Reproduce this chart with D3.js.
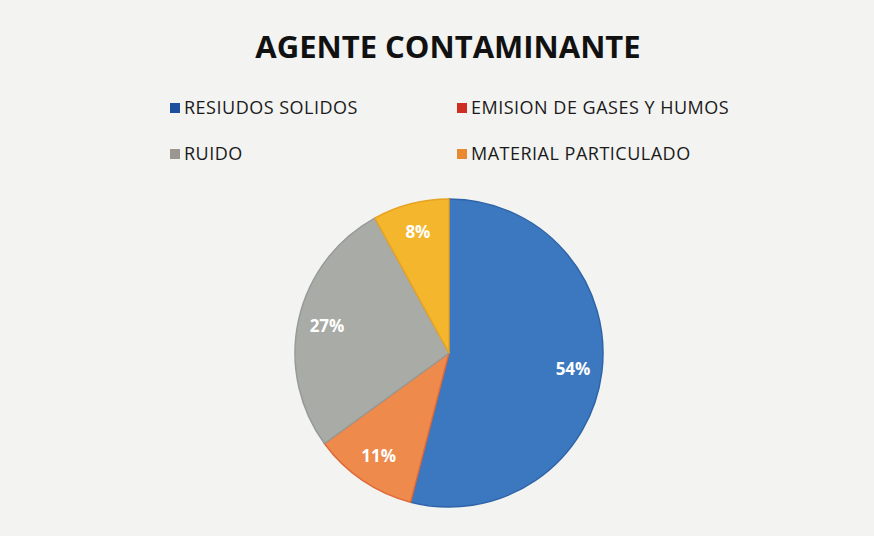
<!DOCTYPE html>
<html>
<head>
<meta charset="utf-8">
<script src="https://cdn.jsdelivr.net/npm/d3@7"></script>
<style>
  html, body { margin: 0; padding: 0; background: #f3f3f1; }
  svg { display: block; }
</style>
</head>
<body>
<div id="viz"></div>
<script>
'use strict';

const categories = ['RESIUDOS SOLIDOS', 'EMISION DE GASES Y HUMOS', 'RUIDO', 'MATERIAL PARTICULADO'];
const values = [54, 11, 27, 8];
const labels = ['54%', '11%', '27%', '8%'];
const sliceColors = ['#3b78c0', '#ee8a4c', '#a9aba6', '#f4b62c'];
const sliceEdges = ['#2f64a8', '#e0693a', '#979b97', '#e7a323'];
const legendColors = ['#1d4f9e', '#cf2f22', '#9b9790', '#e98a30'];

const W = 874;
const H = 536;
const font = '"Open Sans", Lato, sans-serif';

const svg = d3.select('#viz')
  .append('svg')
    .attr('width', W)
    .attr('height', H);

svg.append('rect')
  .attr('width', W)
  .attr('height', H)
  .attr('fill', '#f3f3f1');

// title
svg.append('text')
  .attr('x', 448)
  .attr('y', 58)
  .attr('text-anchor', 'middle')
  .attr('font-family', font)
  .attr('font-weight', 'bold')
  .attr('font-size', 31)
  .attr('fill', '#111')
  .text('AGENTE CONTAMINANTE');

// legend, two columns
const legendX = [170, 457];
const legendY = [108, 154];

const legend = svg.append('g')
  .selectAll('g')
  .data(categories)
  .join('g')
    .attr('transform', (d, i) => `translate(${legendX[i % 2]},${legendY[i / 2 | 0]})`);

legend.append('rect')
  .attr('x', 0)
  .attr('y', -5)
  .attr('width', 10)
  .attr('height', 10)
  .attr('fill', (d, i) => legendColors[i]);

legend.append('text')
  .attr('x', 14)
  .attr('y', 0)
  .attr('dy', '0.35em')
  .attr('font-family', font)
  .attr('font-size', 18)
  .attr('letter-spacing', 0.5)
  .attr('fill', '#1a1a1a')
  .text(d => d);

// pie
const cx = 449;
const cy = 353;
const radius = 154;

const pie = d3.pie()
  .sort(null)
  .value(d => d);

const arc = d3.arc()
  .innerRadius(0)
  .outerRadius(radius);

const labelArc = d3.arc()
  .innerRadius(125)
  .outerRadius(125);

const arcs = pie(values);

const g = svg.append('g')
  .attr('transform', `translate(${cx},${cy})`);

g.selectAll('path')
  .data(arcs)
  .join('path')
    .attr('d', arc)
    .attr('fill', (d, i) => sliceColors[i])
    .attr('stroke', (d, i) => sliceEdges[i])
    .attr('stroke-width', 1.5);

g.selectAll('text')
  .data(arcs)
  .join('text')
    .attr('transform', d => `translate(${labelArc.centroid(d)})`)
    .attr('text-anchor', 'middle')
    .attr('dy', '0.35em')
    .attr('font-family', font)
    .attr('font-weight', 'bold')
    .attr('font-size', 17)
    .attr('fill', '#fff')
    .text((d, i) => labels[i]);
</script>
</body>
</html>
